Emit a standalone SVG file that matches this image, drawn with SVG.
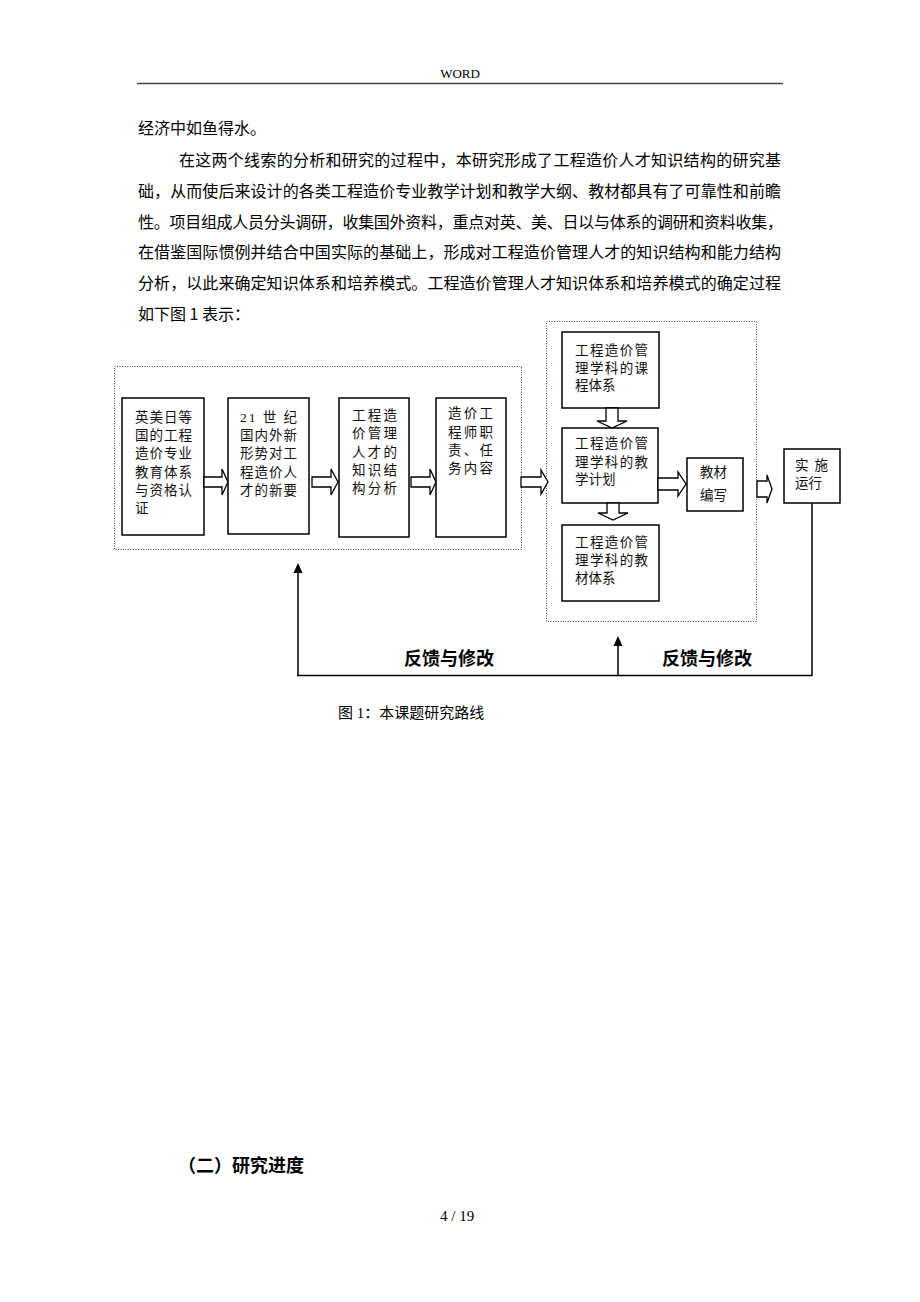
<svg xmlns="http://www.w3.org/2000/svg" width="920" height="1302" viewBox="0 0 920 1302">
<style>
.body{font-family:"Noto Sans CJK SC","Liberation Sans",sans-serif;font-size:16px;fill:#000}
.serif{font-family:"Liberation Serif","Noto Sans CJK SC",serif;fill:#000}
.bt{font-family:"Liberation Serif","Noto Sans CJK SC",serif;font-size:13.5px;fill:#111}
.box{fill:#fff;stroke:#000;stroke-width:1.5}
.dot{fill:none;stroke:#444;stroke-width:1;stroke-dasharray:1,1.5}
.harrow{fill:#fff;stroke:#000;stroke-width:1.3}
.line{fill:none;stroke:#000;stroke-width:1.5}
.head{fill:#000}
.fb{font-family:"Noto Sans CJK SC","Liberation Sans",sans-serif;font-size:18px;font-weight:bold;fill:#000}
</style>
<rect width="920" height="1302" fill="#fff"/>

<!-- header -->
<text class="serif" x="460" y="78" font-size="13" text-anchor="middle">WORD</text>
<line x1="137" y1="83.5" x2="783" y2="83.5" stroke="#444" stroke-width="1.5"/>

<!-- paragraph -->
<text class="body" x="138" y="134">经济中如鱼得水。</text>
<text class="body" x="179" y="166" textLength="602" lengthAdjust="spacing">在这两个线索的分析和研究的过程中，本研究形成了工程造价人才知识结构的研究基</text>
<text class="body" x="138" y="197" textLength="643" lengthAdjust="spacing">础，从而使后来设计的各类工程造价专业教学计划和教学大纲、教材都具有了可靠性和前瞻</text>
<text class="body" x="138" y="228" textLength="645" lengthAdjust="spacing">性。项目组成人员分头调研，收集国外资料，重点对英、美、日以与体系的调研和资料收集，</text>
<text class="body" x="138" y="258" textLength="643" lengthAdjust="spacing">在借鉴国际惯例并结合中国实际的基础上，形成对工程造价管理人才的知识结构和能力结构</text>
<text class="body" x="138" y="289" textLength="643" lengthAdjust="spacing">分析，以此来确定知识体系和培养模式。工程造价管理人才知识体系和培养模式的确定过程</text>
<text class="body" x="138" y="320">如下图 1 表示：</text>

<!-- containers -->
<g id="group-left">
<rect class="dot" x="114.5" y="366.5" width="407" height="183"/>
</g>
<g id="group-right">
<rect class="dot" x="546.5" y="321.5" width="210" height="300"/>
</g>

<g id="n1">
<rect class="box" x="122" y="398" width="82" height="137"/>
<text class="bt"><tspan x="135" y="422" textLength="57" lengthAdjust="spacing">英美日等</tspan><tspan x="135" y="440" textLength="57" lengthAdjust="spacing">国的工程</tspan><tspan x="135" y="458" textLength="57" lengthAdjust="spacing">造价专业</tspan><tspan x="135" y="477" textLength="57" lengthAdjust="spacing">教育体系</tspan><tspan x="135" y="495" textLength="57" lengthAdjust="spacing">与资格认</tspan><tspan x="135" y="513">证</tspan></text>
</g>
<g id="n2">
<rect class="box" x="228" y="398" width="81" height="136"/>
<text class="bt"><tspan x="240" y="422" textLength="57" lengthAdjust="spacing">21 世 纪</tspan><tspan x="240" y="440" textLength="57" lengthAdjust="spacing">国内外新</tspan><tspan x="240" y="458" textLength="57" lengthAdjust="spacing">形势对工</tspan><tspan x="240" y="477" textLength="57" lengthAdjust="spacing">程造价人</tspan><tspan x="240" y="495" textLength="57" lengthAdjust="spacing">才的新要</tspan></text>
</g>
<g id="n3">
<rect class="box" x="339" y="398" width="70" height="139"/>
<text class="bt"><tspan x="352" y="420" textLength="45" lengthAdjust="spacing">工程造</tspan><tspan x="352" y="438" textLength="45" lengthAdjust="spacing">价管理</tspan><tspan x="352" y="457" textLength="45" lengthAdjust="spacing">人才的</tspan><tspan x="352" y="475" textLength="45" lengthAdjust="spacing">知识结</tspan><tspan x="352" y="493" textLength="45" lengthAdjust="spacing">构分析</tspan></text>
</g>
<g id="n4">
<rect class="box" x="436" y="398" width="70" height="139"/>
<text class="bt"><tspan x="448" y="418" textLength="45" lengthAdjust="spacing">造价工</tspan><tspan x="448" y="437" textLength="45" lengthAdjust="spacing">程师职</tspan><tspan x="448" y="455" textLength="45" lengthAdjust="spacing">责、任</tspan><tspan x="448" y="473" textLength="45" lengthAdjust="spacing">务内容</tspan></text>
</g>
<g id="nA">
<rect class="box" x="562" y="332" width="97" height="76"/>
<text class="bt"><tspan x="575" y="355" textLength="73" lengthAdjust="spacing">工程造价管</tspan><tspan x="575" y="373" textLength="73" lengthAdjust="spacing">理学科的课</tspan><tspan x="575" y="390">程体系</tspan></text>
</g>
<g id="nB">
<rect class="box" x="562" y="428" width="96" height="75"/>
<text class="bt"><tspan x="575" y="448" textLength="73" lengthAdjust="spacing">工程造价管</tspan><tspan x="575" y="467" textLength="73" lengthAdjust="spacing">理学科的教</tspan><tspan x="575" y="484">学计划</tspan></text>
</g>
<g id="nC">
<rect class="box" x="562" y="525" width="97" height="76"/>
<text class="bt"><tspan x="575" y="547" textLength="73" lengthAdjust="spacing">工程造价管</tspan><tspan x="575" y="565" textLength="73" lengthAdjust="spacing">理学科的教</tspan><tspan x="575" y="583">材体系</tspan></text>
</g>
<g id="nD">
<rect class="box" x="687" y="458" width="56" height="53"/>
<text class="bt"><tspan x="700" y="477">教材</tspan><tspan x="700" y="500">编写</tspan></text>
</g>
<g id="nE">
<rect class="box" x="784" y="449" width="56" height="54"/>
<text class="bt"><tspan x="795" y="470" textLength="33" lengthAdjust="spacing">实 施</tspan><tspan x="795" y="488">运行</tspan></text>
</g>

<g id="connectors">
<polygon class="harrow" points="204,477 222,477 222,469 228,482 222,495 222,487 204,487"/>
<polygon class="harrow" points="312,477 331,477 331,469 338,482 331,495 331,487 312,487"/>
<polygon class="harrow" points="411,477 430,477 430,469 436,482 430,495 430,487 411,487"/>
<polygon class="harrow" points="521,477 541,477 541,470 548,482 541,494 541,487 521,487"/>
<polygon class="harrow" points="658,478 678,478 678,472 686,484 678,496 678,490 658,490"/>
<polygon class="harrow" points="757,481 767,481 767,475 772,489 767,503 767,497 757,497"/>
<polygon class="harrow" points="606,408 618,408 618,421 627,421 612,428 597,421 606,421"/>
<polygon class="harrow" points="607,503 619,503 619,513 628,513 613,520 598,513 607,513"/>
<polyline class="line" points="812,503 812,675.5 297,675.5"/>
<line class="line" x1="298" y1="675" x2="298" y2="572"/>
<polygon class="head" points="298,563 302.5,573 293.5,573"/>
<line class="line" x1="618" y1="675" x2="618" y2="645"/>
<polygon class="head" points="618,636 622.5,646 613.5,646"/>
</g>

<text class="fb" x="404" y="665">反馈与修改</text>
<text class="fb" x="662" y="665">反馈与修改</text>

<text class="serif" x="338" y="718" font-size="15">图 1：本课题研究路线</text>

<text x="178" y="1172" font-family="Noto Sans CJK SC, Liberation Sans, sans-serif" font-size="18" font-weight="bold">（二）研究进度</text>
<text class="serif" x="440" y="1221" font-size="15">4  / 19</text>
</svg>
